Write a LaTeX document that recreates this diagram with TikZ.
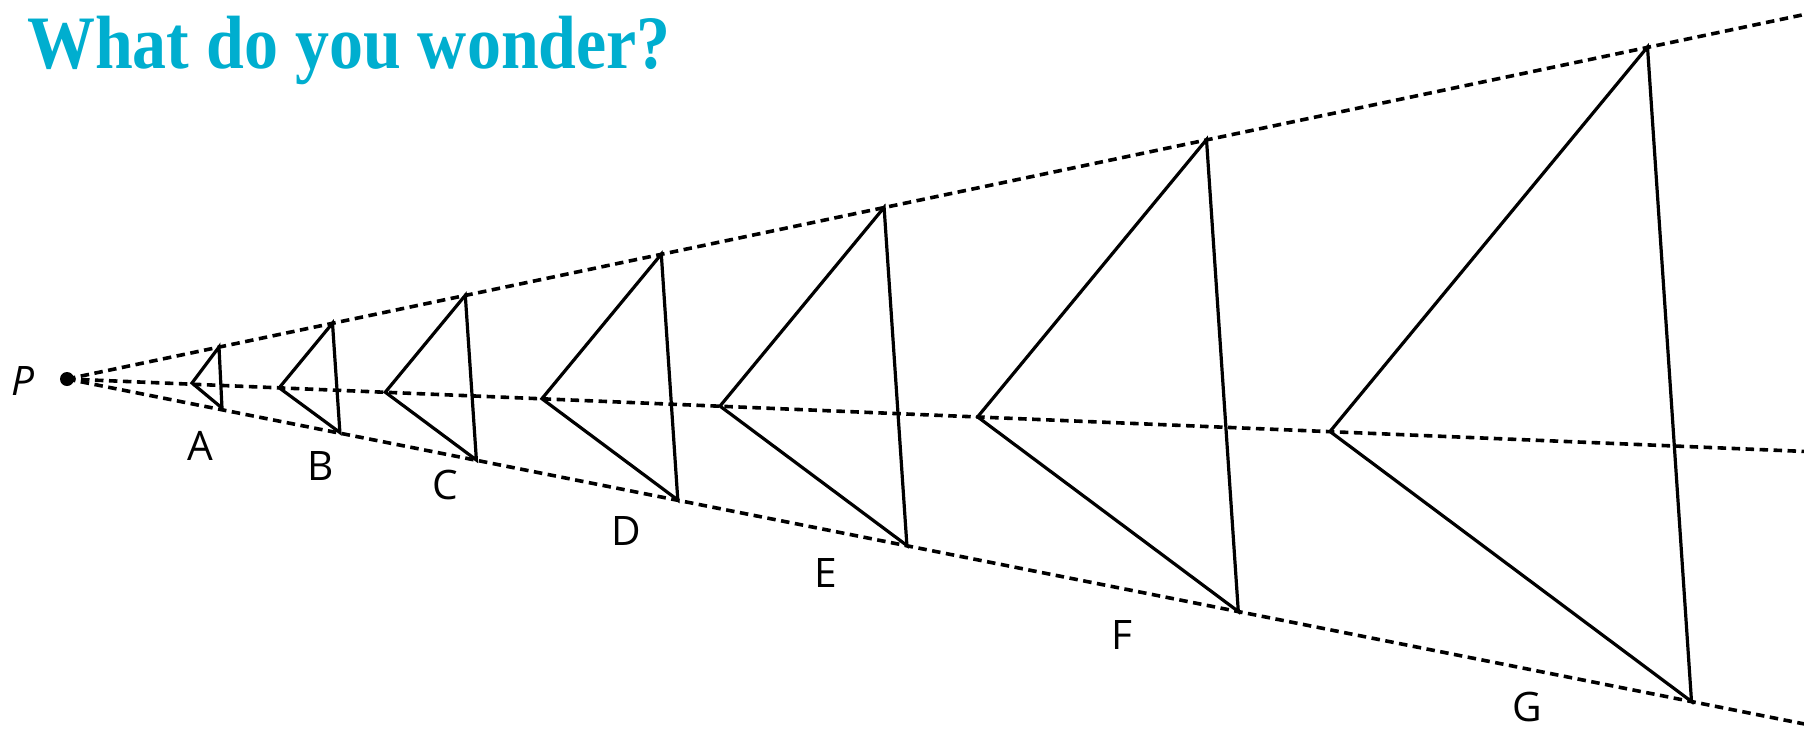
\documentclass[tikz,border=0pt]{standalone}
\usepackage{fontspec}
\usepackage{xcolor}
\usepackage{tikz}
\setmainfont{Open Sans}
\newfontfamily\headfont{Liberation Serif}
\definecolor{headcyan}{RGB}{0,174,207}

\begin{document}
\begin{tikzpicture}[x=1pt, y=-1pt, >=latex]
  \tikzstyle{ray}=[line width=3.6pt, dash pattern=on 8.5pt off 5.5pt]
  \tikzstyle{tri}=[line width=3.2pt]
  \tikzstyle{lbl}=[inner sep=0pt, font=\fontsize{40.6}{44}\selectfont]
  \tikzstyle{head}=[inner sep=0pt, anchor=base west, text=headcyan, font=\headfont\bfseries\fontsize{75.5}{80}\selectfont]
  \useasboundingbox (0,0) rectangle (1804,731);

  % title
  \node[head] (title) at (27,68) {\scalebox{0.9}[1]{What do you wonder?}};

  % centre of dilation
  \coordinate (P) at (67,379);
  \node[lbl, font=\fontsize{40.6}{44}\selectfont\itshape] (Plbl) at (23,381) {P};

  % ray ends, beyond the edge
  \coordinate (topend) at (1964,-19);
  \coordinate (midend) at (1962,458);
  \coordinate (botend) at (2016,766);

  % vertices: top, left, bottom
  \coordinate (At) at (219,347);    \coordinate (Al) at (192,383);    \coordinate (Ab) at (222,408);
  \coordinate (Bt) at (332.5,323.2); \coordinate (Bl) at (279.2,387.8); \coordinate (Bb) at (339.9,432.5);
  \coordinate (Ct) at (465.3,295.3); \coordinate (Cl) at (385.3,392.2); \coordinate (Cb) at (476.4,460);
  \coordinate (Dt) at (661.3,254.2); \coordinate (Dl) at (541.9,398.7); \coordinate (Db) at (677.8,500);
  \coordinate (Et) at (884.1,207.4); \coordinate (El) at (720,406.1);   \coordinate (Eb) at (906.9,545.5);
  \coordinate (Ft) at (1206.5,139.6); \coordinate (Fl) at (977.6,416.9); \coordinate (Fb) at (1238.3,611.5);
  \coordinate (Gt) at (1647.5,47);   \coordinate (Gl) at (1330,431.5);  \coordinate (Gb) at (1691.5,701.5);

  % rays
  \begin{scope}
    \clip (0,0) rectangle (1804,731);
    \draw[ray] (P) -- (topend);
    \draw[ray] (P) -- (midend);
    \draw[ray] (P) -- (botend);
  \end{scope}
  \fill (P) circle (7);

  % triangles
  \draw[tri] (At) -- (Al) -- (Ab) -- cycle;
  \draw[tri] (Bt) -- (Bl) -- (Bb) -- cycle;
  \draw[tri] (Ct) -- (Cl) -- (Cb) -- cycle;
  \draw[tri] (Dt) -- (Dl) -- (Db) -- cycle;
  \draw[tri] (Et) -- (El) -- (Eb) -- cycle;
  \draw[tri] (Ft) -- (Fl) -- (Fb) -- cycle;
  \draw[tri] (Gt) -- (Gl) -- (Gb) -- cycle;

  % labels
  \node[lbl] (Alabel) at (200,446) {A};
  \node[lbl] (Blabel) at (321,466) {B};
  \node[lbl] (Clabel) at (445,485) {C};
  \node[lbl] (Dlabel) at (626,531) {D};
  \node[lbl] (Elabel) at (826,573) {E};
  \node[lbl] (Flabel) at (1122,635) {F};
  \node[lbl] (Glabel) at (1527,707) {G};
\end{tikzpicture}
\end{document}
